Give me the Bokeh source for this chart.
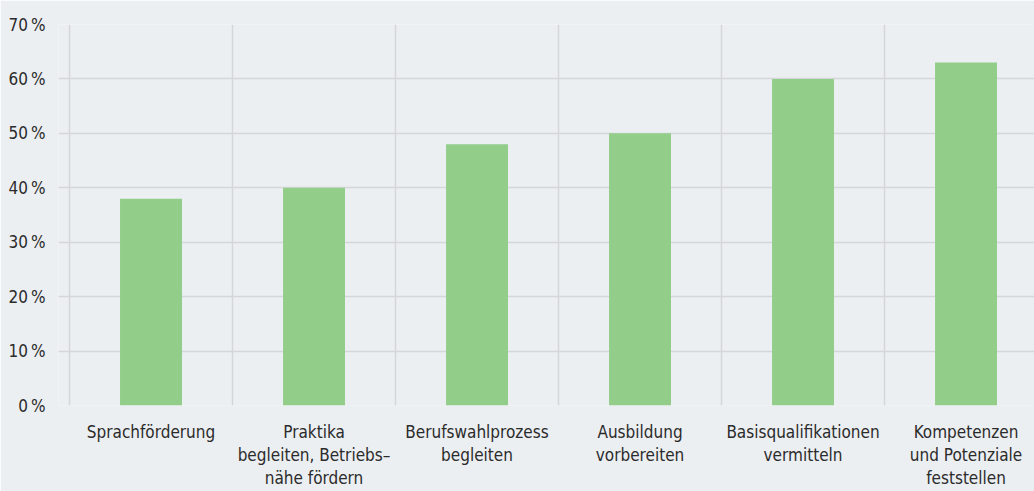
from bokeh.plotting import figure
from bokeh.models import ColumnDataSource, FixedTicker, Range1d
from bokeh.embed import file_html
from bokeh.resources import INLINE

categories = [
    "Sprachförderung",
    "Praktika\nbegleiten, Betriebs–\nnähe fördern",
    "Berufswahlprozess\nbegleiten",
    "Ausbildung\nvorbereiten",
    "Basisqualifikationen\nvermitteln",
    "Kompetenzen\nund Potenziale\nfeststellen",
]
values = [38, 40, 48, 50, 60, 63]
y_ticks = [0, 10, 20, 30, 40, 50, 60, 70]
y_labels = ["0\u2009%", "10\u2009%", "20\u2009%", "30\u2009%", "40\u2009%", "50\u2009%", "60\u2009%", "70\u2009%"]

BG = "#ECEFF2"
GRID = "#D4D6D9"
BAR = "#92CD8A"
TXT = "#2B2B2B"
FONT = "DejaVu Sans Condensed"

xpos = [i + 0.5 for i in range(len(categories))]
src = ColumnDataSource(dict(x=xpos, top=values, cat=categories))

p = figure(width=1034, height=491, output_backend="svg", toolbar_location=None,
           x_range=Range1d(-0.0675, 5.92), y_range=Range1d(0, 70),
           min_border_left=58, min_border_right=0, min_border_top=24, min_border_bottom=86)
p.background_fill_color = BG
p.border_fill_color = BG
p.outline_line_color = None

p.vbar(x="x", top="top", bottom=0, width=0.38, source=src, fill_color=BAR, line_color=None)

# x axis
p.xaxis.ticker = FixedTicker(ticks=xpos)
p.xaxis.major_label_overrides = {x: c for x, c in zip(xpos, categories)}
p.xaxis.axis_line_color = None
p.xaxis.major_tick_line_color = None
p.xaxis.minor_tick_line_color = None
p.xaxis.major_label_standoff = 10
p.xaxis.major_label_text_font = FONT
p.xaxis.major_label_text_font_size = "17px"
p.xaxis.major_label_text_color = TXT
p.xaxis.major_label_text_line_height = 1.15

# y axis
p.yaxis.ticker = FixedTicker(ticks=y_ticks)
p.yaxis.major_label_overrides = {t: l for t, l in zip(y_ticks, y_labels)}
p.yaxis.axis_line_color = None
p.yaxis.major_tick_line_color = None
p.yaxis.minor_tick_line_color = None
p.yaxis.major_label_standoff = 7
p.yaxis.major_label_text_font = FONT
p.yaxis.major_label_text_font_size = "17px"
p.yaxis.major_label_text_color = TXT

# grids
p.xgrid.ticker = FixedTicker(ticks=[0, 1, 2, 3, 4, 5, 6])
p.xgrid.grid_line_color = GRID
p.xgrid.grid_line_width = 1.5
p.ygrid.ticker = FixedTicker(ticks=y_ticks)
p.ygrid.grid_line_color = GRID
p.ygrid.grid_line_width = 1.5

open("out.html", "w").write(file_html(p, INLINE))
